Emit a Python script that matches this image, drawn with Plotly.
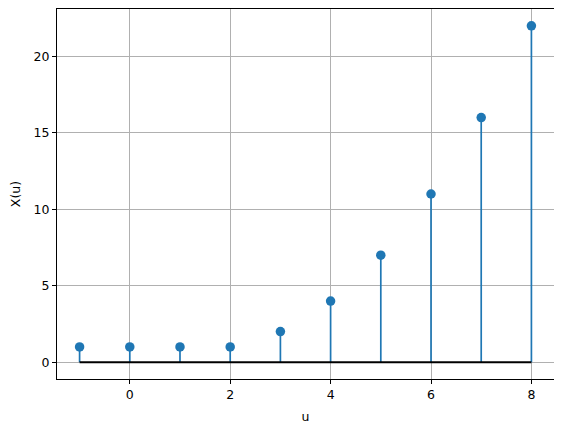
import plotly.graph_objects as go

u = [-1, 0, 1, 2, 3, 4, 5, 6, 7, 8]
X = [1, 1, 1, 1, 2, 4, 7, 11, 16, 22]
x_ticks = [0, 2, 4, 6, 8]
y_ticks = [0, 5, 10, 15, 20]

blue = "#1f77b4"

stem_x, stem_y = [], []
for a, b in zip(u, X):
    stem_x += [a, a, None]
    stem_y += [0, b, None]

fig = go.Figure()
fig.add_trace(go.Scatter(x=stem_x, y=stem_y, mode="lines",
                         line=dict(color=blue, width=1.7), hoverinfo="skip"))
fig.add_trace(go.Scatter(x=u, y=X, mode="markers",
                         marker=dict(color=blue, size=9.5)))
fig.add_trace(go.Scatter(x=[min(u), max(u)], y=[0, 0], mode="lines",
                         line=dict(color="black", width=2)))

axis_common = dict(
    showline=True, linecolor="black", linewidth=1, mirror=True,
    ticks="outside", ticklen=4, tickwidth=1, tickcolor="black",
    showgrid=True, gridcolor="#b0b0b0", gridwidth=0.8,
    zeroline=False, tickfont=dict(size=12.5, color="black"),
    automargin=False,
)

fig.update_xaxes(range=[-1.45, 8.45], tickvals=x_ticks,
                 title=dict(text="u", font=dict(size=12.5, color="black"), standoff=11),
                 **axis_common)
fig.update_yaxes(range=[-1.1, 23.1], tickvals=y_ticks,
                 title=dict(text="X(u)", font=dict(size=12.5, color="black"), standoff=10),
                 **axis_common)

# page body has an 8px default margin, so the figure is sized to fit the window
fig.update_layout(
    width=554, height=424,
    margin=dict(l=49, r=8, t=1, b=53),
    paper_bgcolor="white", plot_bgcolor="white",
    showlegend=False,
    font=dict(family="DejaVu Sans", size=12.5, color="black"),
)

fig.write_html("out.html")
